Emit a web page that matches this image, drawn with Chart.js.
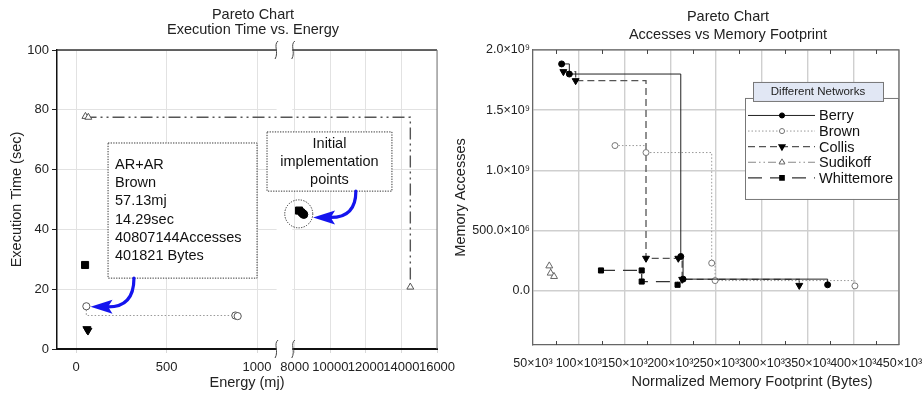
<!DOCTYPE html>
<html>
<head>
<meta charset="utf-8">
<script src="https://cdn.jsdelivr.net/npm/chart.js@4/dist/chart.umd.min.js"></script>
<style>
  html, body { margin: 0; padding: 0; background: #fff; overflow: hidden; width: 923px; height: 394px; }
  #wrap { position: relative; width: 923px; height: 394px; overflow: hidden; background: #fff; }
  #c1 { position: absolute; left: 0; top: 0; }
  #c2 { position: absolute; left: 450px; top: 0; }
</style>
</head>
<body>
<div id="wrap">
  <canvas id="c1" width="506" height="394"></canvas>
  <canvas id="c2" width="556" height="394"></canvas>
</div>
<script>
// ===================== DATA: left panel (Execution Time vs Energy) =====================
const energyTickValues = [0, 500, 1000, 8000, 10000, 12000, 14000, 16000];
const energyTickLabels = ['0', '500', '1000', '8000', '10000', '12000', '14000', '16000'];

const berryEnergy      = [8380, 8450, 8510];
const berryTime        = [45.7, 45.3, 45.0];
const brownEnergy      = [57.13, 880, 893];
const brownTime        = [14.29, 11.2, 11.0];
const collisEnergy     = [60, 66, 8300];
const collisTime       = [6.7, 6.2, 46.0];
const sudikoffEnergy   = [52, 68, 14500];
const sudikoffTime     = [77.8, 77.5, 20.7];
const whittemoreEnergy = [50, 8240];
const whittemoreTime   = [28.1, 46.3];

// ===================== DATA: right panel (Accesses vs Memory Footprint) =====================
const footprintTickValues = [50000, 100000, 150000, 200000, 250000, 300000, 350000, 400000, 450000];
const footprintTickLabels = ['50×10³', '100×10³', '150×10³', '200×10³', '250×10³', '300×10³', '350×10³', '400×10³', '450×10³'];
const accessTickValues = [0, 500e6, 1.0e9, 1.5e9, 2.0e9];
const accessTickLabels = ['0.0', '500.0×10⁶', '1.0×10⁹', '1.5×10⁹', '2.0×10⁹'];

const berryFootprint      = [81300, 89700, 211500, 214000, 372000];
const berryAccesses       = [1.884e9, 1.800e9, 0.285e9, 0.097e9, 0.050e9];
const brownFootprint      = [139600, 173500, 245300, 249000, 401821];
const brownAccesses       = [1.206e9, 1.148e9, 0.230e9, 0.085e9, 40807144];
const collisFootprint     = [83200, 96600, 173500, 208800, 213000, 341000];
const collisAccesses      = [1.820e9, 1.745e9, 0.270e9, 0.270e9, 0.095e9, 0.045e9];
const sudikoffFootprint   = [67800, 69300, 73000];
const sudikoffAccesses    = [0.207e9, 0.147e9, 0.119e9];
const whittemoreFootprint = [124300, 168800, 168800, 208000];
const whittemoreAccesses  = [0.169e9, 0.169e9, 0.077e9, 0.050e9];

// ===================== helpers =====================
Chart.defaults.font.family = "'Liberation Sans', Arial, Helvetica, sans-serif";
Chart.defaults.color = '#222';
Chart.defaults.animation = false;

const mk = (xs, ys, f) => xs.map((v, i) => ({ x: f ? f(v) : v, y: ys[i] }));

// broken energy axis: segment A [-105, 1105], segment B [7890, 16000]
const SEG_A = [-105, 1105], SEG_B = [7890, 16000];
const SPLIT_A = 0.5765, SPLIT_B = 0.6205;
function toV(e) {
  if (e <= (SEG_A[1] + SEG_B[0]) / 2) return (e - SEG_A[0]) / (SEG_A[1] - SEG_A[0]) * SPLIT_A;
  return SPLIT_B + (e - SEG_B[0]) / (SEG_B[1] - SEG_B[0]) * (1 - SPLIT_B);
}

function arrow(ctx, S, T) {
  const C = [S[0], T[1]];
  const dx = C[0] - T[0], dy = C[1] - T[1];
  const L = Math.hypot(dx, dy) || 1;
  const ux = dx / L, uy = dy / L;
  const hl = 22, hw = 7;
  const H = [T[0] + ux * hl * 0.8, T[1] + uy * hl * 0.8];
  ctx.strokeStyle = '#1414ee'; ctx.fillStyle = '#1414ee';
  ctx.lineWidth = 3.2; ctx.setLineDash([]); ctx.lineCap = 'round';
  ctx.beginPath(); ctx.moveTo(S[0], S[1]);
  ctx.quadraticCurveTo(C[0], C[1], H[0], H[1]); ctx.stroke();
  const B = [T[0] + ux * hl, T[1] + uy * hl];
  ctx.beginPath();
  ctx.moveTo(T[0], T[1]);
  ctx.lineTo(B[0] - uy * hw, B[1] + ux * hw);
  ctx.lineTo(H[0], H[1]);
  ctx.lineTo(B[0] + uy * hw, B[1] - ux * hw);
  ctx.closePath(); ctx.fill();
}

// ===================== plugins =====================
const leftDecor = {
  id: 'leftDecor',
  beforeDatasetsDraw(chart) {
    const { ctx, chartArea: a, scales: { x } } = chart;
    ctx.save();
    ctx.strokeStyle = '#333'; ctx.lineWidth = 1.3;
    ctx.beginPath(); ctx.moveTo(a.left, a.top); ctx.lineTo(a.right, a.top); ctx.stroke();
    ctx.strokeStyle = '#777'; ctx.lineWidth = 1;
    ctx.beginPath(); ctx.moveTo(a.right, a.top); ctx.lineTo(a.right, a.bottom); ctx.stroke();
    const g0 = x.getPixelForValue(SPLIT_A), g1 = x.getPixelForValue(SPLIT_B);
    ctx.fillStyle = '#fff';
    ctx.fillRect(g0 + 0.5, a.top - 2, g1 - g0 - 1, a.bottom - a.top + 4);
    ctx.strokeStyle = '#444'; ctx.lineWidth = 1;
    for (const gx of [g0, g1]) for (const gy of [a.top, a.bottom]) {
      ctx.beginPath();
      ctx.moveTo(gx + 2, gy - 9);
      ctx.bezierCurveTo(gx - 3, gy - 5, gx + 3, gy + 2, gx - 1, gy + 9);
      ctx.stroke();
    }
    ctx.restore();
  },
  afterDatasetsDraw(chart) {
    const { ctx, scales: { x, y } } = chart;
    const P = (e, t) => [x.getPixelForValue(toV(e)), y.getPixelForValue(t)];
    ctx.save();
    const box = (e0, t0, e1, t1) => {
      const [x0, y0] = P(e0, t0), [x1, y1] = P(e1, t1);
      ctx.fillStyle = '#fff'; ctx.fillRect(x0, y0, x1 - x0, y1 - y0);
      ctx.setLineDash([1.3, 1.3]); ctx.strokeStyle = '#333'; ctx.lineWidth = 1;
      ctx.strokeRect(x0, y0, x1 - x0, y1 - y0); ctx.setLineDash([]);
      return [x0, y0, x1, y1];
    };
    ctx.font = "14.5px 'Liberation Sans', Arial, sans-serif";
    ctx.fillStyle = '#111'; ctx.textBaseline = 'middle';
    // annotation box for the selected Brown point
    const b1 = box(177, 68.9, 1000, 23.7);
    const lines1 = ['AR+AR', 'Brown', brownEnergy[0] + 'mj', brownTime[0] + 'sec',
                    brownAccesses[brownAccesses.length - 1] + 'Accesses', brownFootprint[brownFootprint.length - 1] + ' Bytes'];
    ctx.fillStyle = '#111'; ctx.textAlign = 'left';
    lines1.forEach((s, i) => ctx.fillText(s, b1[0] + 7, b1[1] + 22 + i * 18.2));
    // initial implementation box
    const b2 = box(1055, 72.6, 13465, 52.8);
    ctx.fillStyle = '#111'; ctx.textAlign = 'center';
    ['Initial', 'implementation', 'points'].forEach((s, i) => ctx.fillText(s, (b2[0] + b2[2]) / 2, b2[1] + 12 + i * 18));
    // dotted circle around cluster
    const c = P(8225, 45.2);
    ctx.setLineDash([1.3, 1.3]); ctx.strokeStyle = '#333'; ctx.lineWidth = 1;
    ctx.beginPath(); ctx.arc(c[0], c[1], 14, 0, Math.PI * 2); ctx.stroke(); ctx.setLineDash([]);
    // arrows
    arrow(ctx, P(320, 23.7), P(80, 14.1));
    arrow(ctx, P(11437, 52.8), P(9030, 44.0));
    ctx.restore();
  }
};

const rightDecor = {
  id: 'rightDecor',
  beforeDatasetsDraw(chart) {
    const { ctx, chartArea: a, scales: { x } } = chart;
    ctx.save();
    ctx.strokeStyle = '#666'; ctx.lineWidth = 1.2;
    ctx.beginPath(); ctx.moveTo(a.left, a.top); ctx.lineTo(a.right, a.top); ctx.lineTo(a.right, a.bottom); ctx.stroke();
    ctx.strokeStyle = '#444'; ctx.lineWidth = 1;
    ctx.beginPath();
    for (let i = 0; i < footprintTickValues.length - 1; i++) {
      const m = (footprintTickValues[i] + footprintTickValues[i + 1]) / 2;
      const px = Math.round(x.getPixelForValue(m)) + 0.5;
      ctx.moveTo(px, a.top); ctx.lineTo(px, a.top + 4);
      ctx.moveTo(px, a.bottom); ctx.lineTo(px, a.bottom - 4);
    }
    ctx.stroke();
    ctx.restore();
  },
  afterDraw(chart) {
    const { ctx, chartArea: a } = chart;
    ctx.save();
    // x axis title
    ctx.font = "14.5px 'Liberation Sans', Arial, sans-serif";
    ctx.fillStyle = '#222'; ctx.textAlign = 'center'; ctx.textBaseline = 'middle';
    ctx.fillText('Normalized Memory Footprint (Bytes)', a.left + 219, chart.height - 12);
    // legend
    const R = a.right, L = R - 154, T = a.top + 48, B = a.top + 149;
    ctx.fillStyle = '#fff'; ctx.fillRect(L, T, R - L, B - T);
    ctx.strokeStyle = '#777'; ctx.lineWidth = 1; ctx.strokeRect(L + 0.5, T + 0.5, R - L - 1, B - T);
    ctx.fillStyle = '#e1e7f4'; ctx.fillRect(L + 8, a.top + 32, 130, 19);
    ctx.strokeStyle = '#777'; ctx.strokeRect(L + 8.5, a.top + 32.5, 130, 19);
    ctx.fillStyle = '#222'; ctx.font = "11.5px 'Liberation Sans', Arial, sans-serif";
    ctx.fillText('Different Networks', L + 73, a.top + 42);
    ctx.font = "14.5px 'Liberation Sans', Arial, sans-serif";
    chart.data.datasets.forEach((ds, i) => {
      const yy = a.top + 65.5 + i * 15.6;
      ctx.setLineDash(ds.borderDash || []);
      ctx.strokeStyle = ds.borderColor; ctx.lineWidth = ds.borderWidth;
      ctx.beginPath(); ctx.moveTo(L + 3, yy); ctx.lineTo(L + 70, yy); ctx.stroke();
      ctx.setLineDash([]);
      ctx.fillStyle = ds.pointBackgroundColor; ctx.strokeStyle = ds.pointBorderColor;
      Chart.helpers.drawPoint(ctx, { pointStyle: ds.pointStyle, rotation: ds.pointRotation || 0,
        radius: ds.pointRadius * 0.85, borderWidth: 1 }, L + 37, yy);
      ctx.fillStyle = '#111'; ctx.textAlign = 'left';
      ctx.fillText(ds.label, L + 74, yy + 1);
    });
    ctx.restore();
  }
};

// ===================== LEFT CHART =====================
new Chart(document.getElementById('c1'), {
  type: 'line',
  data: {
    datasets: [
      { label: 'Sudikoff', data: mk(sudikoffEnergy, sudikoffTime, toV), showLine: true, stepped: true,
        borderColor: '#555', borderWidth: 1.4, borderDash: [12, 4, 2, 4, 2, 4],
        pointStyle: 'triangle', pointRadius: 4, pointBackgroundColor: '#fff', pointBorderColor: '#555', pointBorderWidth: 1 },
      { label: 'Brown', data: mk(brownEnergy, brownTime, toV), showLine: true, stepped: 'after',
        borderColor: '#999', borderWidth: 1.2, borderDash: [1.5, 2],
        pointStyle: 'circle', pointRadius: 3.6, pointBackgroundColor: '#fff', pointBorderColor: '#555', pointBorderWidth: 1 },
      { label: 'Collis', data: mk(collisEnergy, collisTime, toV), showLine: false,
        pointStyle: 'triangle', pointRotation: 180, pointRadius: 4.6, pointBackgroundColor: '#000', pointBorderColor: '#000' },
      { label: 'Whittemore', data: mk(whittemoreEnergy, whittemoreTime, toV), showLine: false,
        pointStyle: 'rect', pointRadius: 5, pointBackgroundColor: '#000', pointBorderColor: '#000' },
      { label: 'Berry', data: mk(berryEnergy, berryTime, toV), showLine: false,
        pointStyle: 'circle', pointRadius: 4, pointBackgroundColor: '#000', pointBorderColor: '#000' }
    ]
  },
  options: {
    responsive: false, animation: false, events: [],
    layout: { padding: 0 },
    plugins: {
      legend: { display: false }, tooltip: { enabled: false },
      title: { display: true, text: ['Pareto Chart', 'Execution Time vs. Energy'], color: '#222',
        font: { size: 14.5, weight: 'normal', lineHeight: 1.0 }, padding: { top: 8, bottom: 13 } }
    },
    scales: {
      x: {
        type: 'linear', min: 0, max: 1,
        afterBuildTicks: s => { s.ticks = energyTickValues.map(v => ({ value: toV(v) })); },
        afterFit: s => { s.height = 45; },
        ticks: { autoSkip: false, maxRotation: 0, font: { size: 13 }, color: '#222', padding: 7,
          callback: (v, i) => energyTickLabels[i] },
        grid: { color: '#e2e2e2', tickColor: '#d8d8d8', tickLength: 4 },
        border: { color: '#111', width: 2 },
        title: { display: true, text: 'Energy (mj)', font: { size: 14.5 }, color: '#222', padding: { top: 0, bottom: 2 } }
      },
      y: {
        min: 0, max: 100,
        afterFit: s => { s.width = 57; },
        ticks: { stepSize: 20, font: { size: 13 }, color: '#222', padding: 3 },
        grid: { color: '#e2e2e2', tickColor: '#222', tickLength: 5 },
        border: { color: '#111', width: 1.5 },
        title: { display: true, text: 'Execution Time (sec)', font: { size: 14.5 }, color: '#222', padding: { top: 8, bottom: 0 } }
      },
      yR: {
        position: 'right', display: true,
        afterFit: s => { s.width = 69; },
        ticks: { display: false }, grid: { display: false, drawTicks: false }, border: { display: false }
      }
    }
  },
  plugins: [leftDecor]
});

// ===================== RIGHT CHART =====================
new Chart(document.getElementById('c2'), {
  type: 'line',
  data: {
    datasets: [
      { label: 'Berry', data: mk(berryFootprint, berryAccesses), showLine: true, stepped: true,
        borderColor: '#222', borderWidth: 1, borderDash: [],
        pointStyle: 'circle', pointRadius: 3, pointBackgroundColor: '#000', pointBorderColor: '#000', pointBorderWidth: 1 },
      { label: 'Brown', data: mk(brownFootprint, brownAccesses), showLine: true, stepped: true,
        borderColor: '#999', borderWidth: 1, borderDash: [1.5, 2],
        pointStyle: 'circle', pointRadius: 3, pointBackgroundColor: '#fff', pointBorderColor: '#777', pointBorderWidth: 1 },
      { label: 'Collis', data: mk(collisFootprint, collisAccesses), showLine: true, stepped: true,
        borderColor: '#555', borderWidth: 1.3, borderDash: [7, 4],
        pointStyle: 'triangle', pointRotation: 180, pointRadius: 4, pointBackgroundColor: '#000', pointBorderColor: '#000', pointBorderWidth: 1 },
      { label: 'Sudikoff', data: mk(sudikoffFootprint, sudikoffAccesses), showLine: true, stepped: true,
        borderColor: '#888', borderWidth: 1, borderDash: [8, 3, 1.5, 3, 1.5, 3],
        pointStyle: 'triangle', pointRadius: 4, pointBackgroundColor: '#fff', pointBorderColor: '#666', pointBorderWidth: 1 },
      { label: 'Whittemore', data: mk(whittemoreFootprint, whittemoreAccesses), showLine: true, stepped: true,
        borderColor: '#333', borderWidth: 1.3, borderDash: [14, 8],
        pointStyle: 'rect', pointRadius: 3.6, pointBackgroundColor: '#000', pointBorderColor: '#000', pointBorderWidth: 1 }
    ]
  },
  options: {
    responsive: false, animation: false, events: [],
    layout: { padding: 0 },
    plugins: {
      legend: { display: false }, tooltip: { enabled: false },
      title: { display: true, text: ['Pareto Chart', 'Accesses vs Memory Footprint'], color: '#222',
        font: { size: 14.5, weight: 'normal', lineHeight: 1.24 }, padding: { top: 8.5, bottom: 5.5 } }
    },
    scales: {
      x: {
        type: 'linear', min: 50000, max: 450000,
        afterBuildTicks: s => { s.ticks = footprintTickValues.map(v => ({ value: v })); },
        afterFit: s => { s.height = 49; },
        ticks: { autoSkip: false, maxRotation: 0, font: { size: 12.5 }, color: '#222', padding: 11,
          callback: (v, i) => footprintTickLabels[i] },
        grid: { color: '#cfcfcf', lineWidth: 1.4, drawTicks: false },
        border: { color: '#666', width: 1.2 }
      },
      y: {
        min: -0.45e9, max: 2.0e9,
        afterBuildTicks: s => { s.ticks = accessTickValues.map(v => ({ value: v })); },
        afterFit: s => { s.width = 83; },
        ticks: { font: { size: 12.5 }, color: '#222', padding: 3,
          callback: (v, i) => accessTickLabels[i] },
        grid: { color: '#cfcfcf', lineWidth: 1.4, drawTicks: false },
        border: { color: '#666', width: 1.2 },
        title: { display: true, text: 'Memory Accesses', font: { size: 14.5 }, color: '#222', padding: { top: 2.3, bottom: 0 } }
      },
      yR: {
        position: 'right', display: true,
        afterFit: s => { s.width = 107; },
        ticks: { display: false }, grid: { display: false, drawTicks: false }, border: { display: false }
      }
    }
  },
  plugins: [rightDecor]
});
</script>
</body>
</html>
